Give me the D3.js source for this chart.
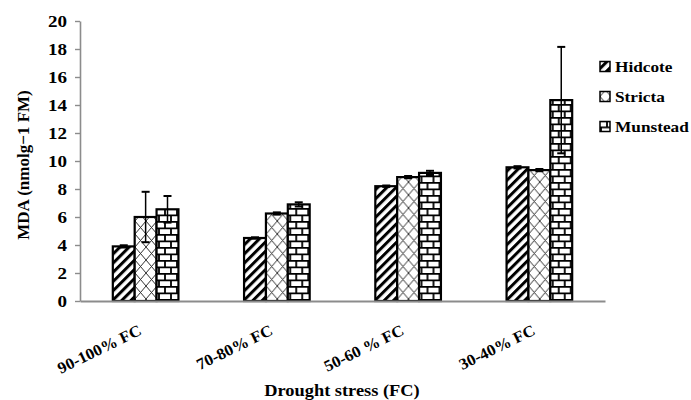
<!DOCTYPE html>
<html>
<head>
<meta charset="utf-8">
<script src="https://cdn.jsdelivr.net/npm/d3@7"></script>
<style>
  body { margin: 0; background: #fff; }
</style>
</head>
<body>
<svg width="691" height="400"></svg>
<script>
// data
const categories = ['90-100% FC', '70-80% FC', '50-60 % FC', '30-40% FC']
const series = ['Hidcote', 'Stricta', 'Munstead']
const hidcote = [3.9, 4.5, 8.2, 9.55]
const stricta = [6.0, 6.25, 8.85, 9.35]
const munstead = [6.55, 6.9, 9.15, 14.35]
const hidcoteErr = [0.08, 0.05, 0.05, 0.08]
const strictaErr = [1.8, 0.08, 0.08, 0.08]
const munsteadErr = [0.95, 0.15, 0.15, 3.8]
const yTicks = [0, 2, 4, 6, 8, 10, 12, 14, 16, 18, 20]

const values = { Hidcote: hidcote, Stricta: stricta, Munstead: munstead }
const errors = { Hidcote: hidcoteErr, Stricta: strictaErr, Munstead: munsteadErr }
const fills = { Hidcote: 'url(#stripes)', Stricta: 'url(#diamonds)', Munstead: 'url(#bricks)' }
const FONT = 'Liberation Serif'

const svg = d3.select('svg')
  .attr('font-family', FONT).attr('font-weight', 'bold')

// the original picture is a little stretched sideways
function stretch (sel, k) {
  sel.each(function () {
    const w = this.getComputedTextLength()
    d3.select(this).attr('textLength', w * k).attr('lengthAdjust', 'spacingAndGlyphs')
  })
}

// patterns
const defs = svg.append('defs')
const stripes = defs.append('pattern').attr('id', 'stripes')
  .attr('patternUnits', 'userSpaceOnUse').attr('width', 6.5).attr('height', 6.5)
  .attr('patternTransform', 'rotate(45)')
stripes.append('rect').attr('width', 6.5).attr('height', 6.5).attr('fill', '#fff')
stripes.append('line').attr('x1', 1.5).attr('x2', 1.5).attr('y1', 0).attr('y2', 6.5)
  .attr('stroke', '#000').attr('stroke-width', 3)

const diamonds = defs.append('pattern').attr('id', 'diamonds')
  .attr('patternUnits', 'userSpaceOnUse').attr('width', 11).attr('height', 13)
diamonds.append('rect').attr('width', 11).attr('height', 13).attr('fill', '#fff')
diamonds.append('path').attr('d', 'M0,0L11,13M11,0L0,13')
  .attr('stroke', '#333').attr('stroke-width', 1).attr('fill', 'none')

const bricks = defs.append('pattern').attr('id', 'bricks')
  .attr('patternUnits', 'userSpaceOnUse').attr('width', 12).attr('height', 13)
bricks.append('rect').attr('width', 12).attr('height', 13).attr('fill', '#fff')
bricks.append('path').attr('d', 'M0,0.8H12M0,7.3H12M1,0.8V7.3M7,7.3V13')
  .attr('stroke', '#000').attr('stroke-width', 1.8).attr('fill', 'none')

// scales
const x0 = d3.scaleBand().domain(categories).range([80, 605])
const x1 = d3.scaleBand().domain(series)
  .range([x0.bandwidth() * 0.25, x0.bandwidth() * 0.75])
const y = d3.scaleLinear().domain([0, 20]).range([301, 21])

// y axis
const yAxis = svg.append('g').attr('transform', 'translate(80,0)')
  .call(d3.axisLeft(y).tickValues(yTicks).tickSize(5).tickSizeOuter(0).tickPadding(8))
yAxis.attr('font-family', FONT).attr('font-size', 17)
yAxis.select('.domain').attr('stroke', '#8c8c8c').attr('stroke-width', 1.6)
yAxis.selectAll('.tick line').attr('stroke', '#8c8c8c').attr('stroke-width', 1.4)
stretch(yAxis.selectAll('.tick text'), 1.12)

// bars
const groups = svg.append('g').selectAll('g')
  .data(categories)
  .join('g')
  .attr('transform', d => `translate(${x0(d)},0)`)

groups.selectAll('rect')
  .data((d, i) => series.map(s => ({ s: s, v: values[s][i], e: errors[s][i] })))
  .join('rect')
  .attr('x', d => x1(d.s))
  .attr('y', d => y(d.v))
  .attr('width', x1.bandwidth())
  .attr('height', d => y(0) - y(d.v))
  .attr('fill', d => fills[d.s])
  .attr('stroke', '#000')
  .attr('stroke-width', 2.2)

// error bars
const err = groups.selectAll('g.err')
  .data((d, i) => series.map(s => ({ s: s, v: values[s][i], e: errors[s][i] })))
  .join('g').attr('class', 'err')
  .attr('transform', d => `translate(${x1(d.s) + x1.bandwidth() / 2},0)`)
err.append('line')
  .attr('y1', d => y(d.v - d.e)).attr('y2', d => y(d.v + d.e))
  .attr('stroke', '#000').attr('stroke-width', 1.5)
err.append('line')
  .attr('x1', -4).attr('x2', 4)
  .attr('y1', d => y(d.v + d.e)).attr('y2', d => y(d.v + d.e))
  .attr('stroke', '#000').attr('stroke-width', 2)
err.append('line')
  .attr('x1', -4).attr('x2', 4)
  .attr('y1', d => y(d.v - d.e)).attr('y2', d => y(d.v - d.e))
  .attr('stroke', '#000').attr('stroke-width', 2)

// x axis
const xAxis = svg.append('g').attr('transform', 'translate(0,301)')
  .call(d3.axisBottom(x0).tickSize(0).tickSizeOuter(0))
xAxis.attr('font-family', FONT).attr('font-size', 16)
xAxis.select('.domain').attr('stroke', '#8c8c8c').attr('stroke-width', 2)
xAxis.selectAll('.tick text')
  .attr('x', 0).attr('y', 0).attr('dy', 0)
  .attr('text-anchor', 'end')
  .attr('transform', 'translate(-3,33) rotate(-26)')
stretch(xAxis.selectAll('.tick text'), 1.05)

// axis titles
svg.append('text')
  .attr('x', 342).attr('y', 396)
  .attr('text-anchor', 'middle').attr('font-size', 17)
  .text('Drought stress (FC)')
  .call(stretch, 1.08)

svg.append('text')
  .attr('transform', 'translate(29,165) rotate(-90)')
  .attr('text-anchor', 'middle').attr('font-size', 17)
  .text('MDA (nmolg\u22121 FM)')

// legend
const legend = svg.append('g').selectAll('g')
  .data(series)
  .join('g')
  .attr('transform', (d, i) => `translate(600,${66.5 + i * 30})`)
legend.append('rect')
  .attr('x', 0).attr('y', -5).attr('width', 10).attr('height', 10)
  .attr('fill', d => fills[d]).attr('stroke', '#000').attr('stroke-width', 1.5)
legend.append('text')
  .attr('x', 15).attr('y', 5).attr('font-size', 15)
  .text(d => d)
  .call(stretch, 1.15)
</script>
</body>
</html>
